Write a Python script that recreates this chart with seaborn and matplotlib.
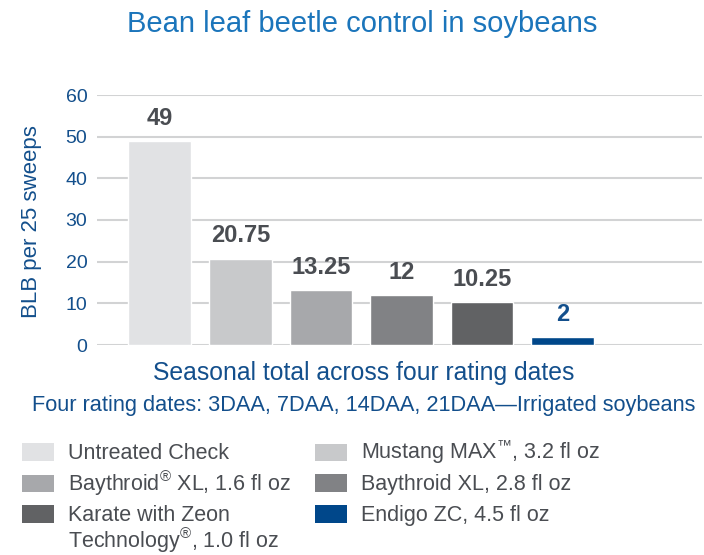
import seaborn as sns
import matplotlib.pyplot as plt
from matplotlib.patches import Patch, Rectangle
from matplotlib.legend_handler import HandlerPatch

treatments = ['Untreated Check', 'Mustang MAX', 'Baythroid XL 1.6',
              'Baythroid XL 2.8', 'Karate', 'Endigo ZC']
blb = [49, 20.75, 13.25, 12, 10.25, 2]
value_labels = ['49', '20.75', '13.25', '12', '10.25', '2']
legend_labels = ['Untreated Check',
                 'Mustang MAX$^{\u2122}$, 3.2 fl oz',
                 'Baythroid$^{\u00ae}$ XL, 1.6 fl oz',
                 'Baythroid XL, 2.8 fl oz',
                 'Karate with Zeon',
                 'Endigo ZC, 4.5 fl oz']
karate_line2 = 'Technology$^{\u00ae}$, 1.0 fl oz'
colors = ['#e1e2e4', '#c8c9cb', '#a7a8ab', '#818285', '#616264', '#00478a']
yticks = [0, 10, 20, 30, 40, 50, 60]

sns.set_style('white')
plt.rcParams['font.family'] = ['Liberation Sans', 'DejaVu Sans']
plt.rcParams['mathtext.fontset'] = 'custom'
plt.rcParams['mathtext.rm'] = 'Liberation Sans'
plt.rcParams['mathtext.it'] = 'Liberation Sans'

dark_blue = '#134f8c'
title_blue = '#1b75bb'
gray_txt = '#4a4d52'

W, H = 704, 555
fig = plt.figure(figsize=(W / 100, H / 100), dpi=100)
ax = fig.add_axes([97 / W, 1 - 345 / H, 605 / W, 250 / H])

sns.barplot(x=treatments, y=blb, hue=treatments, palette=colors,
            legend=False, width=0.78, ax=ax, saturation=1)

for i, cont in enumerate(ax.containers):
    c = dark_blue if i == 5 else gray_txt
    ax.bar_label(cont, labels=[value_labels[i]], padding=8,
                 fontsize=17, color=c, fontweight='bold')

ax.set_ylim(0, 60)
ax.set_xlim(-0.78, 6.73)
ax.set_yticks(yticks)
ax.set_xticks([])
ax.set_xlabel('')
ax.tick_params(axis='y', labelsize=14, length=0, pad=7)
for lab in ax.get_yticklabels():
    lab.set_color(dark_blue)
ax.yaxis.grid(True, color='#d2d3d4', linewidth=1.5)
ax.set_axisbelow(True)
for s in ax.spines.values():
    s.set_visible(False)
ax.set_ylabel('')
fig.text(32 / W, 1 - 222 / H, 'BLB per 25 sweeps', rotation=90, ha='center',
         va='center', fontsize=16, color=dark_blue)

fig.text(362 / W, 1 - 24 / H, 'Bean leaf beetle control in soybeans',
         ha='center', va='center', fontsize=21, color=title_blue)
fig.text(364 / W, 1 - 373 / H, 'Seasonal total across four rating dates',
         ha='center', va='center', fontsize=17.8, color=dark_blue)
fig.text(364 / W, 1 - 406 / H,
         'Four rating dates: 3DAA, 7DAA, 14DAA, 21DAA\u2014Irrigated soybeans',
         ha='center', va='center', fontsize=15.7, color=dark_blue)


# small swatch centred in a tall handle box so every entry sits the same way
def swatch(legend, orig_handle, xdescent, ydescent, width, height, fontsize):
    h = 0.79 * fontsize
    return Rectangle((-xdescent, -ydescent + (height - h) / 2), width, h)


leg_kw = dict(loc='center left', frameon=False, fontsize=15.5,
              handlelength=1.49, handleheight=1.6, handletextpad=0.65,
              borderpad=0, borderaxespad=0,
              handler_map={Patch: HandlerPatch(patch_func=swatch)})
col_x = [22, 315]
row_y = [452, 483, 514]
legs = []
for i in range(6):
    row, col = divmod(i, 2)
    lg = fig.legend([Patch(facecolor=colors[i], edgecolor='none')],
                    [legend_labels[i]],
                    bbox_to_anchor=(col_x[col] / W, 1 - row_y[row] / H),
                    **leg_kw)
    lg.get_texts()[0].set_color(gray_txt)
    legs.append(lg)

fig.canvas.draw()
bb = legs[4].get_texts()[0].get_window_extent()
fig.text(bb.x0 / W, (bb.y0 + bb.y1) / 2 / H - 25 / H, karate_line2,
         ha='left', va='center', fontsize=15.5, color=gray_txt)

fig.savefig('out.png', dpi=100)
